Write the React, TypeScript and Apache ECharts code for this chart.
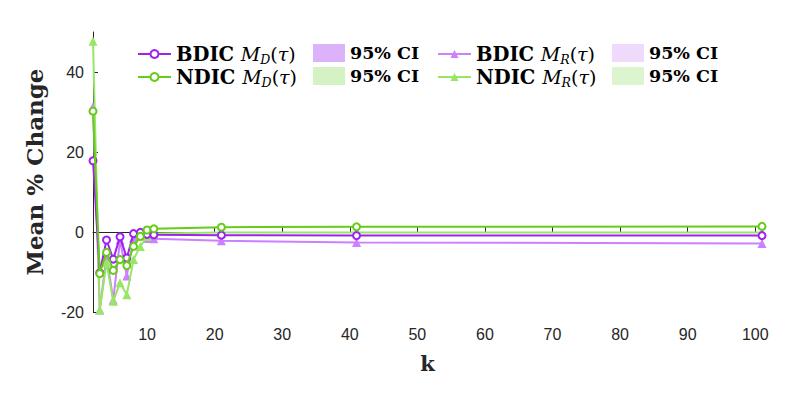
import React, { useEffect, useRef } from "react";
import * as echarts from "echarts";

const kValues = [2, 3, 4, 5, 6, 7, 8, 9, 10, 11, 21, 41, 101];
const bdicMD = [17.8, -10.2, -2.0, -6.8, -1.2, -6.5, -0.4, -0.1, -0.6, -0.7, -0.8, -0.9, -0.9];
const ndicMD = [30.2, -10.4, -5.1, -9.6, -6.9, -8.4, -3.6, -1.1, 0.5, 0.8, 1.2, 1.3, 1.4];
const bdicMR = [31.3, -19.5, -6.0, -17.0, -2.0, -11.0, -1.5, -1.0, -1.6, -1.7, -2.2, -2.6, -2.9];
const ndicMR = [47.7, -19.5, -7.7, -17.3, -12.7, -15.7, -6.9, -3.6, -1.1, -0.4, -0.1, -0.1, -0.1];

const xTickValues = [10, 20, 30, 40, 50, 60, 70, 80, 90, 100];
const yTickValues = [-20, 0, 20, 40];

const C_BD = "#a020f0";
const C_BR = "#cc80ff";
const C_ND = "#66cc1a";
const C_NR = "#99e566";
const CI_BD = "#dcb3fb";
const CI_BR = "#f0dafc";
const CI_ND = "#d5f2c4";
const CI_NR = "#dcf5cf";

const SERIF = "DejaVu Serif";
const SANS = "Liberation Sans";

const labelText: Record<string, string> = {
  bdicMD: "{b|BDIC }{i|M}{s|D}{n|(}{i|τ}{n|)}",
  ndicMD: "{b|NDIC }{i|M}{s|D}{n|(}{i|τ}{n|)}",
  bdicMR: "{b|BDIC }{i|M}{s|R}{n|(}{i|τ}{n|)}",
  ndicMR: "{b|NDIC }{i|M}{s|R}{n|(}{i|τ}{n|)}",
  ci1: "{c|95% CI}",
  ci2: "{c|95% CI}",
  ci3: "{c|95% CI}",
  ci4: "{c|95% CI}",
};

const rich = {
  b: { fontFamily: SERIF, fontWeight: "bold", fontSize: 19.5, color: "#000" },
  c: { fontFamily: SERIF, fontWeight: "bold", fontSize: 17.5, color: "#000" },
  i: { fontFamily: SERIF, fontStyle: "italic", fontSize: 19, color: "#000" },
  n: { fontFamily: SERIF, fontSize: 19, color: "#000" },
  s: { fontFamily: SERIF, fontStyle: "italic", fontSize: 12.5, color: "#000", padding: [10, 0, 0, 0] },
};

function makeLegend(name: string, left: number, top: number, isRect: boolean, color?: string) {
  return {
    show: true,
    left,
    top,
    padding: 0,
    itemWidth: isRect ? 32 : 33,
    itemHeight: isRect ? 18 : 10,
    itemGap: 0,
    selectedMode: false,
    data: isRect ? [{ name, icon: "rect", itemStyle: { color } }] : [name],
    formatter: (n: string) => labelText[n],
    textStyle: { fontFamily: SERIF, fontSize: 18, color: "#000", rich },
  };
}

export default function App() {
  const ref = useRef<HTMLDivElement>(null);
  useEffect(() => {
    if (!ref.current) return;
    const chart = echarts.init(ref.current, undefined, { renderer: "svg" });
    const mk = (arr: number[]) => kValues.map((k, i) => [k, arr[i]]);
    const lineSeries = (name: string, data: number[], color: string, circle: boolean, z: number) => ({
      name,
      type: "line",
      data: mk(data),
      symbol: circle ? "emptyCircle" : "triangle",
      symbolSize: circle ? 7 : 9,
      showSymbol: true,
      z,
      lineStyle: { color, width: 2 },
      itemStyle: { color, borderColor: color, borderWidth: circle ? 2 : 0 },
    });
    const dummy = (name: string, color: string) => ({
      name,
      type: "line",
      data: [],
      itemStyle: { color },
      lineStyle: { color },
    });
    chart.setOption({
      animation: false,
      backgroundColor: "#fff",
      grid: { left: 93, right: 31, top: 32, bottom: 85 },
      legend: [
        makeLegend("bdicMD", 137, 44, false),
        makeLegend("ci1", 313, 44, true, CI_BD),
        makeLegend("bdicMR", 437, 44, false),
        makeLegend("ci2", 612, 44, true, CI_BR),
        makeLegend("ndicMD", 137, 67, false),
        makeLegend("ci3", 313, 67, true, CI_ND),
        makeLegend("ndicMR", 437, 67, false),
        makeLegend("ci4", 612, 67, true, CI_NR),
      ],
      xAxis: {
        type: "value",
        min: 2,
        max: 101,
        name: "k",
        nameLocation: "middle",
        nameGap: 41,
        nameTextStyle: { fontFamily: SERIF, fontWeight: "bold", fontSize: 21, color: "#262626" },
        axisLine: { show: true, lineStyle: { color: "#262626", width: 1 } },
        axisTick: { show: true, inside: true, length: 5, customValues: xTickValues, lineStyle: { color: "#262626" } },
        axisLabel: { customValues: xTickValues, fontFamily: SANS, fontSize: 16, color: "#262626", margin: 14 },
        splitLine: { show: false },
      },
      yAxis: {
        type: "value",
        min: -20,
        max: 50,
        name: "Mean % Change",
        nameLocation: "middle",
        nameGap: 47,
        nameTextStyle: { fontFamily: SERIF, fontWeight: "bold", fontSize: 23, color: "#262626" },
        axisLine: { show: true, lineStyle: { color: "#262626", width: 1 } },
        axisTick: { show: true, inside: true, length: 5, customValues: yTickValues, lineStyle: { color: "#262626" } },
        axisLabel: { customValues: yTickValues, fontFamily: SANS, fontSize: 16, color: "#262626", margin: 9 },
        splitLine: { show: false },
      },
      series: [
        lineSeries("bdicMR", bdicMR, C_BR, false, 2),
        lineSeries("ndicMR", ndicMR, C_NR, false, 3),
        lineSeries("bdicMD", bdicMD, C_BD, true, 4),
        lineSeries("ndicMD", ndicMD, C_ND, true, 5),
        dummy("ci1", CI_BD),
        dummy("ci2", CI_BR),
        dummy("ci3", CI_ND),
        dummy("ci4", CI_NR),
      ],
    });
    return () => chart.dispose();
  }, []);
  return (
    <div
      ref={ref}
      style={{ position: "fixed", left: 0, top: 0, width: 793, height: 397, background: "#fff" }}
    />
  );
}
